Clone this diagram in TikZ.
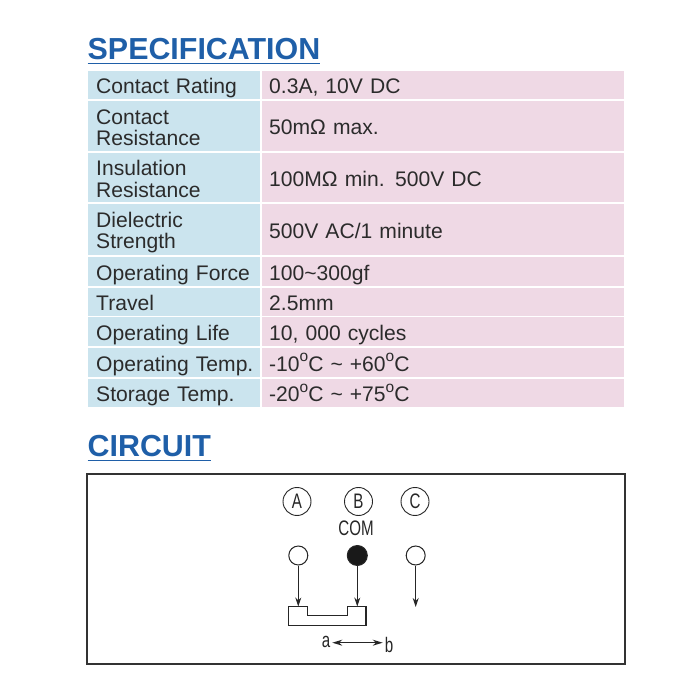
\documentclass[tikz,border=0pt]{standalone}
\usepackage{fontspec}
\setmainfont{Liberation Sans}
\newfontfamily\narrowfont[FakeStretch=0.72]{Liberation Sans}
\usepackage{xcolor}
\usepackage{tikz}
\usetikzlibrary{arrows.meta,positioning}
\definecolor{headblue}{HTML}{1F5FA8}
\definecolor{labblue}{HTML}{CBE4EE}
\definecolor{valpink}{HTML}{EFD9E5}
\definecolor{inktext}{HTML}{2B2B2B}
\newcommand{\cellt}[1]{\raisebox{0pt}[17pt][0pt]{#1}}
\newcommand{\degc}{\raisebox{9.5pt}{\fontsize{15.5}{15.5}\selectfont o}C}
\tikzset{
	cell/.style={anchor=north west, inner ysep=0pt, align=left, text=inktext, font=\fontsize{21.1}{21.6}\selectfont},
	labcell/.style={cell, inner xsep=8pt, fill=labblue, minimum width=171.3pt, text width=155.3pt},
	valcell/.style={cell, inner xsep=7.3pt, fill=valpink, minimum width=362.3pt, text width=347.7pt},
	heading/.style={anchor=base west, inner sep=0pt, text=headblue, font=\fontsize{30.4}{31}\selectfont\bfseries},
	headrule/.style={draw=headblue, line width=1.4pt},
	pin/.style={circle, draw=black!85, line width=1pt, inner sep=0pt, minimum size=19pt},
	tag/.style={circle, draw=black!85, line width=0.9pt, inner sep=0pt, minimum size=28pt, font=\fontsize{21}{21}\selectfont\narrowfont, text=black!85},
	thin label/.style={inner sep=0pt, font=\fontsize{21}{21}\selectfont\narrowfont, text=black!85},
	wire/.style={draw=black!85, line width=1.1pt, -{Stealth[length=9pt,width=6pt]}},
	travel/.style={draw=black!85, line width=1.1pt, {Stealth[length=10pt,width=6pt]}-{Stealth[length=10pt,width=6pt]}}
}
\begin{document}
\begin{tikzpicture}[x=1pt,y=-1pt]
	\useasboundingbox (0,0) rectangle (678,676);
	\node[heading] (spec) at (87.5,59.5) {SPECIFICATION};
	\draw[headrule] ([yshift=-3.8pt]spec.south west) -- ([yshift=-3.8pt]spec.south east);
	\node[heading] (circ) at (87.5,456.8) {CIRCUIT};
	\draw[headrule] ([yshift=-3pt]circ.south west) -- ([yshift=-3pt]circ.south east);
	% table rows: top, height, left text, right text
	\foreach \i/\ytop/\rowh/\lab/\val in {
		1/71/28.3/{\cellt{Contact Rating}}/{\cellt{0.3A, 10V DC}},
		2/101/50.3/{\cellt{Contact}\\\cellt{Resistance}}/{\cellt{50mΩ max.}},
		3/153/49.3/{\cellt{Insulation}\\\cellt{Resistance}}/{\cellt{100MΩ min. 500V DC}},
		4/204/51/{\cellt{Dielectric}\\\cellt{Strength}}/{\cellt{500V AC/1 minute}},
		5/257.3/28.7/{\cellt{Operating Force}}/{\cellt{100\textasciitilde300gf}},
		6/288/27.7/{\cellt{Travel}}/{\cellt{2.5mm}},
		7/317.3/28.7/{\cellt{Operating Life}}/{\cellt{10, 000 cycles}},
		8/348/28.7/{\cellt{Operating Temp.}}/{\cellt{-10\degc{} \textasciitilde{} +60\degc}},
		9/378.7/28.6/{\cellt{Storage Temp.}}/{\cellt{-20\degc{} \textasciitilde{} +75\degc}}}
	{
		\node[labcell, minimum height=\rowh pt] (lab\i) at (88,\ytop) {\lab};
		\node[valcell, minimum height=\rowh pt] (val\i) at (261.7,\ytop) {\val};
	}
	% circuit frame
	\draw[draw=black!80, line width=1.5pt] (87,474) rectangle (625,664);
	\node[tag] (tagA) at (297,501.5) {A};
	\node[tag] (tagB) at (358.5,501.5) {B};
	\node[tag] (tagC) at (415,501.5) {C};
	\node[thin label] (com) at (356,528) {COM};
	\node[pin] (pinA) at (298.3,555.5) {};
	\node[pin, fill=black!90, minimum size=20pt] (pinB) at (357.3,555.5) {};
	\node[pin] (pinC) at (415.7,555.5) {};
	% slider
	\draw[draw=black!85, line width=1.1pt] (288.3,606.5) -- (307.3,606.5) -- (307.3,615.7) -- (347.3,615.7)
		-- (347.3,606.5) -- (366,606.5) -- (366,625.3) -- (288.3,625.3) -- cycle;
	\coordinate (slideA) at (298.3,606.5);
	\coordinate (slideB) at (357.3,606.5);
	\coordinate (openC) at (415.7,607);
	\draw[wire] (pinA) -- (slideA);
	\draw[wire] (pinB) -- (slideB);
	\draw[wire] (pinC) -- (openC);
	\node[thin label] (dirA) at (326,641.5) {a};
	\node[thin label] (dirB) at (389,644.5) {b};
	\coordinate (endA) at (332.3,642.7);
	\coordinate (endB) at (382.7,642.7);
	\draw[travel] (endA) -- (endB);
\end{tikzpicture}
\end{document}
